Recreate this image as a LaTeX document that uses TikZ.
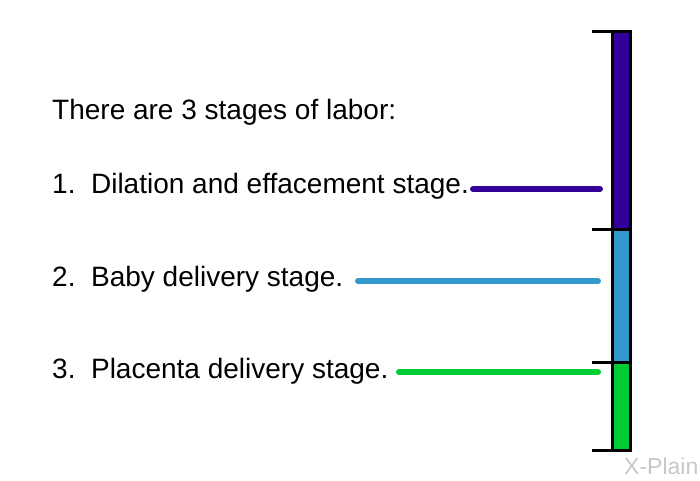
\documentclass[tikz,border=0pt]{standalone}
\usepackage{fontspec}
\setmainfont{Liberation Sans}
\usetikzlibrary{calc}
\definecolor{stageone}{HTML}{330099}
\definecolor{stagetwo}{HTML}{3399CC}
\definecolor{stagethree}{HTML}{00CC33}
\tikzset{
  label/.style={anchor=base west, inner sep=0pt, font=\fontsize{28}{32}\selectfont},
  stageline/.style={line width=6pt, line cap=round},
  tick/.style={line width=3pt}
}

\begin{document}
\begin{tikzpicture}[x=1pt, y=-1pt]
    % Page frame
    \useasboundingbox (0,0) rectangle (700,480);

    % Title and list of stages
    \node[label] (title) at (52,119) {There are 3 stages of labor:};
    \node[label] (one) at (52,193) {1.\ \ Dilation and effacement stage.};
    \node[label] (two) at (52,286) {2.\ \ Baby delivery stage.};
    \node[label] (three) at (52,378) {3.\ \ Placenta delivery stage.};

    % Coloured bar
    \fill[stageone] (612,31) rectangle (630,229);
    \fill[stagetwo] (612,229) rectangle (630,362);
    \fill[stagethree] (612,362) rectangle (630,450);
    \draw[tick] (612,31) rectangle (630,450);
    \draw[tick] (612,229) -- (630,229);
    \draw[tick] (612,362) -- (630,362);

    % Ticks on the left of the bar
    \foreach \y in {31,229,362,450}
        \draw[tick] (592,\y) -- (612,\y);

    % Lines from each stage to the bar
    \coordinate (oneEnd) at (600,189);
    \coordinate (twoEnd) at (598,281);
    \coordinate (threeEnd) at (598,372);
    \draw[stageline, stageone] (473,189) -- (oneEnd);
    \draw[stageline, stagetwo] (358,281) -- (twoEnd);
    \draw[stageline, stagethree] (399,372) -- (threeEnd);

    % Logo
    \node[anchor=base west, inner sep=0pt, text=black!22, font=\fontsize{23}{26}\selectfont] (logo) at (624,474) {X-Plain};
\end{tikzpicture}
\end{document}
